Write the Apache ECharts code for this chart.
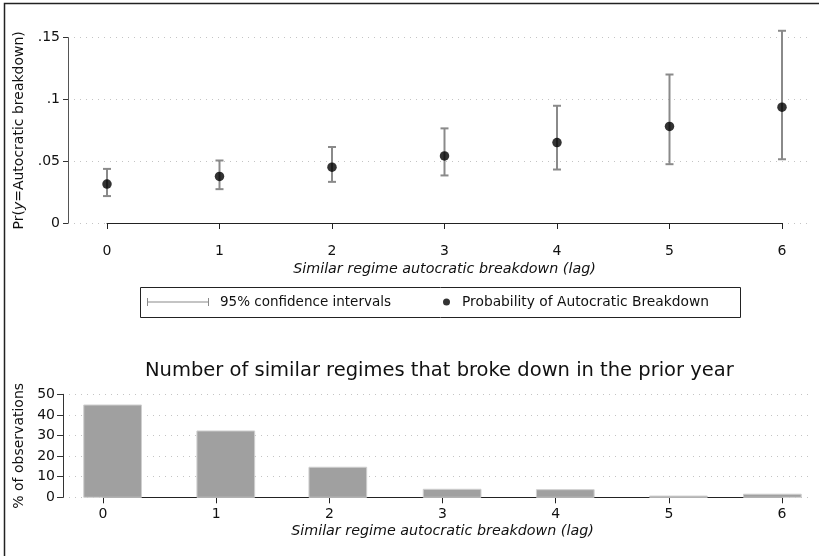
<!DOCTYPE html>
<html>
<head>
<meta charset="utf-8">
<script src="https://cdn.jsdelivr.net/npm/echarts@6/dist/echarts.min.js"></script>
<style>
  html, body { margin: 0; padding: 0; background: #fff; }
  #chart { width: 819px; height: 556px; }
</style>
</head>
<body>
<div id="chart"></div>
<script>
  // lag values (x axis)
  const lags = [0, 1, 2, 3, 4, 5, 6]
  // predicted probability and 95% CI
  const prob = [0.0315, 0.0377, 0.0452, 0.0543, 0.0651, 0.0782, 0.0938]
  const ciLow = [0.0218, 0.0274, 0.0333, 0.0385, 0.0433, 0.0476, 0.0516]
  const ciHigh = [0.0438, 0.0506, 0.0615, 0.0766, 0.0949, 0.1202, 0.1556]
  // histogram: % of observations, bin start and width
  const pctObs = [44.8, 32.2, 14.6, 3.9, 3.7, 0.6, 1.5]
  const binStart = [-0.17, 0.83, 1.82, 2.83, 3.83, 4.83, 5.66]
  const binWidth = 0.51

  const probTicks = [0, 0.05, 0.1, 0.15]
  const pctTicks = [0, 10, 20, 30, 40, 50]

  const font = '"DejaVu Sans", Verdana, sans-serif'
  const dotted = {show: true, lineStyle: {color: '#c4c4c4', type: [1, 5], width: 1}}
  const axisDark = {show: true, lineStyle: {color: '#222', width: 1}}
  const ciColor = '#8a8a8a'

  const chart = echarts.init(document.getElementById('chart'))

  const fmtProb = function (v) {
    let s = parseFloat(v.toFixed(2)).toString()
    return s === '0' ? '0' : s.replace(/^0\./, '.')
  }

  const option = {
    animation: false,
    textStyle: {fontFamily: font, color: '#111'},
    title: {
      text: 'Number of similar regimes that broke down in the prior year',
      left: 140,
      top: 356,
      textStyle: {fontFamily: font, fontSize: 19.5, fontWeight: 'normal', color: '#111'}
    },
    graphic: [
      {
        type: 'rect', silent: true,
        shape: {x: 4.5, y: 3.5, width: 900, height: 700},
        style: {fill: 'none', stroke: '#222', lineWidth: 1.5}
      },
      {
        type: 'rect', silent: true,
        shape: {x: 140.5, y: 287.5, width: 600, height: 30},
        style: {fill: 'none', stroke: '#222', lineWidth: 1}
      }
    ],
    legend: [
      {
        left: 147, top: 295, padding: 0,
        itemWidth: 62, itemHeight: 8, itemGap: 10,
        textStyle: {fontFamily: font, fontSize: 13.5, color: '#111', padding: [0, 0, 0, 6]},
        data: [{
          name: '95% confidence intervals',
          icon: 'path://M0,3.5h62v1h-62z M0,0h1v8h-1z M61,0h1v8h-1z',
          itemStyle: {color: ciColor}
        }]
      },
      {
        left: 443, top: 295, padding: 0,
        itemWidth: 7, itemHeight: 7,
        textStyle: {fontFamily: font, fontSize: 13.8, color: '#111', padding: [0, 0, 0, 7]},
        data: [{name: 'Probability of Autocratic Breakdown', icon: 'circle', itemStyle: {color: '#000'}}]
      }
    ],
    grid: [
      {left: 68, right: 11, top: 37.7, bottom: 333},
      {left: 107, right: 37, top: 37.7, bottom: 333},
      {left: 63, right: 11, top: 394.3, bottom: 58.7},
      {left: 103, right: 37, top: 394.3, bottom: 58.7}
    ],
    xAxis: [
      {gridIndex: 0, type: 'value', min: 0, max: 1, show: false},
      {
        gridIndex: 1, type: 'value', min: lags[0], max: lags[lags.length - 1], interval: 1,
        offset: 11,
        axisLine: axisDark,
        axisTick: {show: true, length: 6, lineStyle: {color: '#222'}},
        axisLabel: {fontSize: 14, color: '#111', margin: 10},
        splitLine: {show: false},
        name: 'Similar regime autocratic breakdown (lag)',
        nameLocation: 'middle', nameGap: 28,
        nameTextStyle: {fontSize: 14.3, fontStyle: 'italic', color: '#111'}
      },
      {gridIndex: 2, type: 'value', min: 0, max: 1, show: false},
      {
        gridIndex: 3, type: 'value', min: lags[0], max: lags[lags.length - 1], interval: 1,
        axisLine: axisDark,
        axisTick: {show: true, length: 6, lineStyle: {color: '#222'}},
        axisLabel: {fontSize: 14, color: '#111', margin: 10},
        splitLine: {show: false},
        name: 'Similar regime autocratic breakdown (lag)',
        nameLocation: 'middle', nameGap: 27,
        nameTextStyle: {fontSize: 14.3, fontStyle: 'italic', color: '#111'}
      }
    ],
    yAxis: [
      {
        gridIndex: 0, type: 'value',
        min: probTicks[0], max: probTicks[probTicks.length - 1], interval: 0.05,
        axisLine: {show: true, lineStyle: {color: '#555', width: 1}},
        axisTick: {show: true, length: 5, lineStyle: {color: '#333'}},
        axisLabel: {fontSize: 14, color: '#111', margin: 8, formatter: fmtProb},
        splitLine: dotted,
        name: '{a|Pr(}{i|y}{a|=Autocratic breakdown)}',
        nameLocation: 'middle', nameGap: 40, nameRotate: 90,
        nameTextStyle: {
          rich: {
            a: {fontSize: 14, color: '#111', fontFamily: font},
            i: {fontSize: 14, color: '#111', fontFamily: font, fontStyle: 'italic'}
          }
        }
      },
      {gridIndex: 1, type: 'value', min: probTicks[0], max: probTicks[probTicks.length - 1], show: false},
      {
        gridIndex: 2, type: 'value',
        min: pctTicks[0], max: pctTicks[pctTicks.length - 1], interval: 10,
        axisLine: {show: true, lineStyle: {color: '#333', width: 1}},
        axisTick: {show: true, length: 6, lineStyle: {color: '#333'}},
        axisLabel: {fontSize: 14, color: '#111', margin: 8},
        splitLine: dotted,
        name: '% of observations',
        nameLocation: 'middle', nameGap: 35, nameRotate: 90,
        nameTextStyle: {fontSize: 14, color: '#111'}
      },
      {gridIndex: 3, type: 'value', min: pctTicks[0], max: pctTicks[pctTicks.length - 1], show: false}
    ],
    series: [
      {
        name: '95% confidence intervals',
        type: 'custom',
        xAxisIndex: 1, yAxisIndex: 1,
        data: lags.map((x, i) => [x, ciLow[i], ciHigh[i]]),
        renderItem: function (params, api) {
          const lo = api.coord([api.value(0), api.value(1)])
          const hi = api.coord([api.value(0), api.value(2)])
          const cap = 4
          const st = {stroke: ciColor, lineWidth: 2}
          return {
            type: 'group',
            children: [
              {type: 'line', shape: {x1: lo[0], y1: lo[1], x2: hi[0], y2: hi[1]}, style: st},
              {type: 'line', shape: {x1: lo[0] - cap, y1: lo[1], x2: lo[0] + cap, y2: lo[1]}, style: st},
              {type: 'line', shape: {x1: hi[0] - cap, y1: hi[1], x2: hi[0] + cap, y2: hi[1]}, style: st}
            ]
          }
        },
        z: 2
      },
      {
        name: 'Probability of Autocratic Breakdown',
        type: 'scatter',
        xAxisIndex: 1, yAxisIndex: 1,
        symbol: 'circle', symbolSize: 9.5,
        itemStyle: {color: '#000'},
        data: lags.map((x, i) => [x, prob[i]]),
        z: 3
      },
      {
        name: 'hist',
        type: 'custom',
        xAxisIndex: 3, yAxisIndex: 3,
        data: lags.map((x, i) => [binStart[i], binStart[i] + binWidth, pctObs[i]]),
        renderItem: function (params, api) {
          const p0 = api.coord([api.value(0), api.value(2)])
          const p1 = api.coord([api.value(1), 0])
          return {
            type: 'rect',
            shape: {x: p0[0], y: p0[1], width: p1[0] - p0[0], height: p1[1] - p0[1]},
            style: {fill: '#a0a0a0', stroke: '#cfcfcf', lineWidth: 1}
          }
        },
        z: 1
      }
    ]
  }
  chart.setOption(option)
</script>
</body>
</html>
